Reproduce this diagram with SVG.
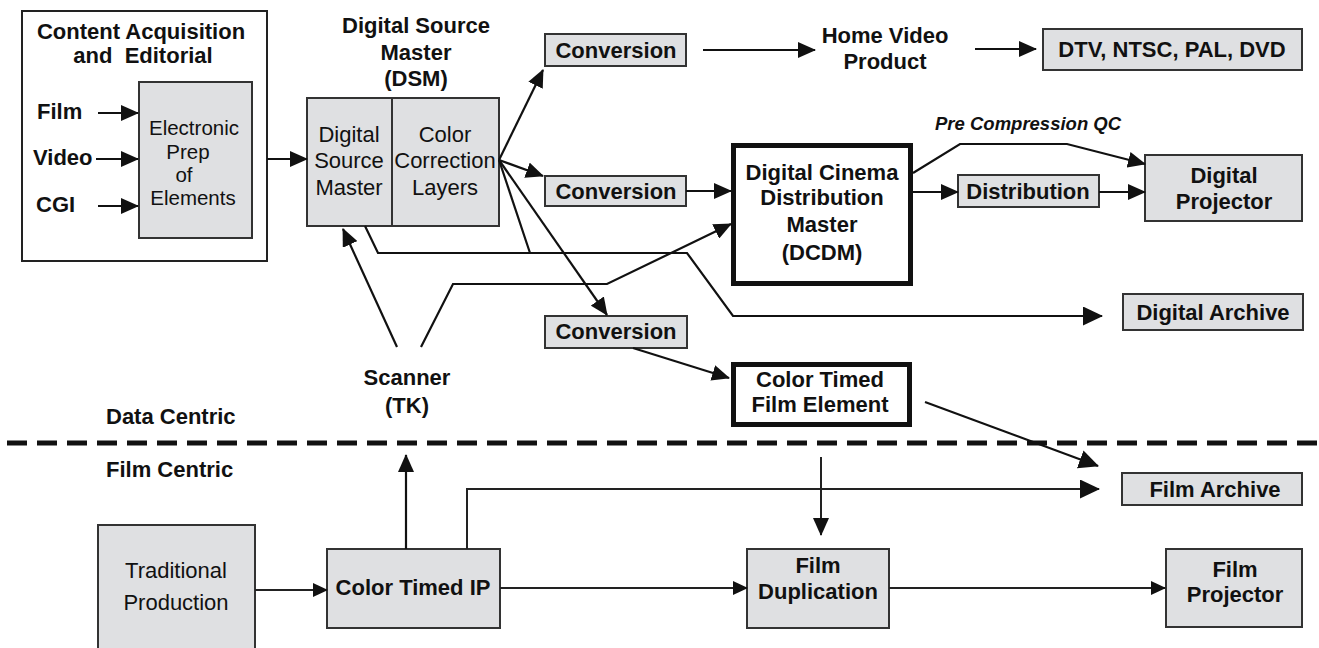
<svg xmlns="http://www.w3.org/2000/svg" width="1319" height="648" viewBox="0 0 1319 648">
<style>
text{font-family:"Liberation Sans",Arial,sans-serif;font-size:22px;fill:#111}
.b{font-weight:bold}
.m{text-anchor:middle}
.e{font-size:20.5px}
.qc{font-size:18.5px;font-weight:bold;font-style:italic}
.box{fill:#dfe0e2;stroke:#333;stroke-width:2}
.wbox{fill:#fff;stroke:#222;stroke-width:2}
.thick{fill:#fff;stroke:#111;stroke-width:5}
.c{fill:none;stroke:#111;stroke-width:2.2;stroke-linejoin:miter}
.t{fill:none;stroke:#222;stroke-width:2}
</style>
<defs>
<marker id="ah" markerUnits="userSpaceOnUse" markerWidth="18" markerHeight="16" refX="17" refY="8" orient="auto"><path d="M0,0 L18,8 L0,16 z" fill="#111"/></marker>
<marker id="as" markerUnits="userSpaceOnUse" markerWidth="15" markerHeight="14" refX="14" refY="7" orient="auto"><path d="M0,0 L15,7 L0,14 z" fill="#111"/></marker>
<marker id="al" markerUnits="userSpaceOnUse" markerWidth="20" markerHeight="19" refX="19" refY="9.5" orient="auto"><path d="M0,0 L20,9.5 L0,19 z" fill="#111"/></marker>
</defs>
<rect width="1319" height="648" fill="#fff"/>

<g id="content-acquisition">
<rect class="wbox" x="22" y="11" width="245" height="250"/>
<text class="b m" x="141" y="39">Content Acquisition</text>
<text class="b m" x="143" y="63" xml:space="preserve">and  Editorial</text>
<text class="b" x="37" y="119">Film</text>
<text class="b" x="33" y="165">Video</text>
<text class="b" x="36" y="212">CGI</text>
</g>
<g id="electronic-prep">
<rect class="box" x="139" y="82" width="113" height="156"/>
<text class="m e" x="194" y="135">Electronic</text>
<text class="m e" x="188" y="159">Prep</text>
<text class="m e" x="184" y="182">of</text>
<text class="m e" x="193" y="205">Elements</text>
</g>
<g id="dsm">
<text class="b m" x="416" y="33">Digital Source</text>
<text class="b m" x="416" y="60">Master</text>
<text class="b m" x="416" y="86">(DSM)</text>
<rect class="box" x="307" y="98" width="192" height="128"/>
<line x1="392" y1="98" x2="392" y2="226" stroke="#333" stroke-width="2"/>
<text class="m" x="349" y="142">Digital</text>
<text class="m" x="349" y="168">Source</text>
<text class="m" x="349" y="195">Master</text>
<text class="m" x="445" y="142">Color</text>
<text class="m" x="445" y="168">Correction</text>
<text class="m" x="445" y="195">Layers</text>
</g>
<g id="conversion1">
<rect class="box" x="545" y="34" width="141" height="32"/>
<text class="b m" x="616" y="58">Conversion</text>
</g>
<g id="conversion2">
<rect class="box" x="545" y="176" width="141" height="30"/>
<text class="b m" x="616" y="199">Conversion</text>
</g>
<g id="conversion3">
<rect class="box" x="545" y="316" width="142" height="32"/>
<text class="b m" x="616" y="339">Conversion</text>
</g>
<g id="home-video">
<text class="b m" x="885" y="43">Home Video</text>
<text class="b m" x="885" y="69">Product</text>
</g>
<g id="dtv">
<rect class="box" x="1043" y="29" width="259" height="41"/>
<text class="b m" x="1172" y="57">DTV, NTSC, PAL, DVD</text>
</g>
<g id="dcdm">
<rect class="thick" x="733.5" y="145.5" width="177" height="138"/>
<text class="b m" x="822" y="180">Digital Cinema</text>
<text class="b m" x="822" y="205">Distribution</text>
<text class="b m" x="822" y="232">Master</text>
<text class="b m" x="822" y="260">(DCDM)</text>
</g>
<g id="distribution">
<rect class="box" x="958" y="175" width="141" height="32"/>
<text class="b m" x="1028" y="199">Distribution</text>
</g>
<g id="digital-projector">
<rect class="box" x="1145" y="155" width="157" height="66"/>
<text class="b m" x="1224" y="183">Digital</text>
<text class="b m" x="1224" y="209">Projector</text>
</g>
<g id="digital-archive">
<rect class="box" x="1123" y="294" width="180" height="36"/>
<text class="b m" x="1213" y="320">Digital Archive</text>
</g>
<g id="scanner">
<text class="b m" x="407" y="385">Scanner</text>
<text class="b m" x="407" y="413">(TK)</text>
</g>
<g id="color-timed-film-element">
<rect class="thick" x="733.5" y="364.5" width="176" height="60"/>
<text class="b m" x="820" y="387">Color Timed</text>
<text class="b m" x="820" y="412">Film Element</text>
</g>
<g id="zones">
<text class="b" x="106" y="424">Data Centric</text>
<line x1="7" y1="443" x2="1319" y2="443" stroke="#111" stroke-width="5" stroke-dasharray="20 10"/>
<text class="b" x="106" y="477">Film Centric</text>
</g>
<g id="traditional-production">
<rect class="box" x="98" y="525" width="157" height="140"/>
<text class="m" x="176" y="578">Traditional</text>
<text class="m" x="176" y="610">Production</text>
</g>
<g id="color-timed-ip">
<rect class="box" x="327" y="549" width="173" height="79"/>
<text class="b m" x="413" y="595">Color Timed IP</text>
</g>
<g id="film-duplication">
<rect class="box" x="747" y="549" width="142" height="79"/>
<text class="b m" x="818" y="573">Film</text>
<text class="b m" x="818" y="599">Duplication</text>
</g>
<g id="film-archive">
<rect class="box" x="1122" y="473" width="180" height="32"/>
<text class="b m" x="1215" y="497">Film Archive</text>
</g>
<g id="film-projector">
<rect class="box" x="1166" y="549" width="136" height="78"/>
<text class="b m" x="1235" y="577">Film</text>
<text class="b m" x="1235" y="602">Projector</text>
</g>

<g id="connectors">
<path class="c" d="M98,113 H138" marker-end="url(#ah)"/>
<path class="c" d="M96,159 H138" marker-end="url(#ah)"/>
<path class="c" d="M98,206 H138" marker-end="url(#ah)"/>
<path class="c" d="M267,159 H307" marker-end="url(#ah)"/>
<path class="c" d="M499,160 L543,70" marker-end="url(#ah)"/>
<path class="c" d="M499,160 L543,176" marker-end="url(#ah)"/>
<path class="c" d="M499,160 L607,315" marker-end="url(#ah)"/>
<path class="c" d="M499,160 L530,253"/>
<path class="c" d="M365,226 L378,253 H687 L733,316 H1102" marker-end="url(#al)"/>
<path class="c" d="M703,50 H815" marker-end="url(#ah)"/>
<path class="c" d="M975,49 H1036" marker-end="url(#ah)"/>
<path class="c" d="M686,191 H731" marker-end="url(#ah)"/>
<path class="c" d="M397,347 L343,229" marker-end="url(#ah)"/>
<path class="c" d="M421,347 L453,284 H607 L731,224" marker-end="url(#ah)"/>
<path class="c" d="M633,348 L729,378" marker-end="url(#ah)"/>
<path class="c" d="M913,192 H958" marker-end="url(#ah)"/>
<path class="c" d="M1099,192 H1145" marker-end="url(#ah)"/>
<path class="c" d="M913,173 L960,144 H1067 L1145,164" marker-end="url(#ah)"/>
<text class="qc" x="935" y="130">Pre Compression QC</text>
<path class="c" d="M925,402 L1098,466" marker-end="url(#al)"/>
<path class="c" d="M406,549 V455" marker-end="url(#ah)"/>
<path class="t" d="M467,549 V489 H1099" marker-end="url(#al)"/>
<path class="t" d="M821,457 V535" marker-end="url(#ah)"/>
<path class="t" d="M255,590 H327" marker-end="url(#as)"/>
<path class="t" d="M500,588 H747" marker-end="url(#as)"/>
<path class="t" d="M889,588 H1165" marker-end="url(#as)"/>
</g>
</svg>
